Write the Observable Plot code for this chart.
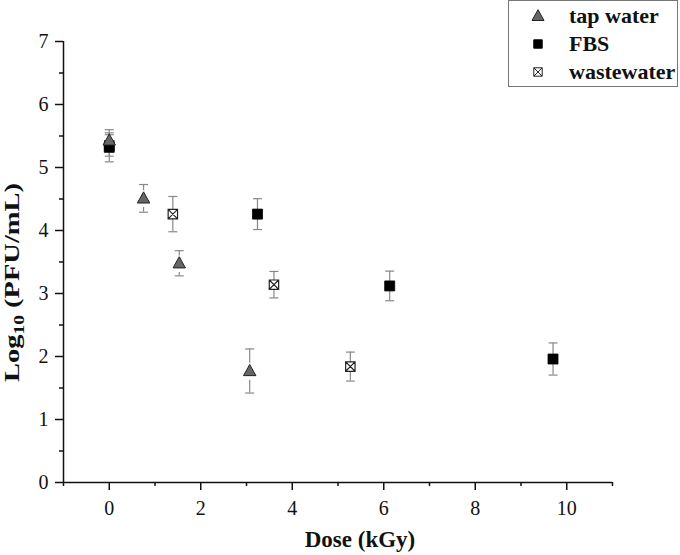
<!DOCTYPE html>
<html><head><meta charset="utf-8">
<script src="https://cdn.jsdelivr.net/npm/d3@7"></script>
<script src="https://cdn.jsdelivr.net/npm/@observablehq/plot@0.6"></script>
<style>
body{margin:0;background:#fff;font-family:"Liberation Serif","Times New Roman",Times,"DejaVu Serif",serif;}
#wrap{position:relative;width:680px;height:555px;overflow:hidden;}
#legend{position:absolute;left:508px;top:0;width:170px;height:87px;box-sizing:border-box;border:1.5px solid #777;background:#fff;}
.row{position:absolute;left:0;height:26px;display:flex;align-items:center;font-weight:bold;font-size:22px;color:#111;white-space:nowrap;}
.row svg{margin-left:21px;margin-right:23px;}
</style></head><body><div id="wrap"></div>
<script>
// ---- data ----
const seriesNames = ["tap water", "FBS", "wastewater"];
const tapDose = [0, 0.75, 1.53, 3.07];
const tapLog  = [5.43, 4.51, 3.48, 1.77];
const tapErr  = [0.17, 0.22, 0.20, 0.35];
const fbsDose = [0, 3.24, 6.13, 9.70];
const fbsLog  = [5.32, 4.26, 3.12, 1.96];
const fbsErr  = [0.23, 0.245, 0.235, 0.255];
const wwDose  = [0, 1.39, 3.60, 5.27];
const wwLog   = [5.35, 4.26, 3.14, 1.84];
const wwErr   = [0.17, 0.28, 0.21, 0.23];
const xMajor = [0, 2, 4, 6, 8, 10];
const xMinor = [-1, 1, 3, 5, 7, 9, 11];
const yMajor = [0, 1, 2, 3, 4, 5, 6, 7];
const yMinor = [0.5, 1.5, 2.5, 3.5, 4.5, 5.5, 6.5];

const FONT = '"Liberation Serif", "Times New Roman", Times, "DejaVu Serif", serif';

const mk = (name, xs, ys, es) => xs.map((x, i) => ({series: name, dose: x, log: ys[i], err: es[i]}));
const tap = mk(seriesNames[0], tapDose, tapLog, tapErr);
const fbs = mk(seriesNames[1], fbsDose, fbsLog, fbsErr);
const ww  = mk(seriesNames[2], wwDose, wwLog, wwErr);
const all = [...ww, ...fbs, ...tap];

// ---- custom symbols ----
const R = s => Math.sqrt(s / Math.PI);
const capSym = {draw(c, s){ const r = R(s); c.moveTo(-r, 0); c.lineTo(r, 0); }};
const triSym = {draw(c, s){ const r = R(s); c.moveTo(0, -r*1.05); c.lineTo(r, r*0.75); c.lineTo(-r, r*0.75); c.closePath(); }};
const sqSym  = {draw(c, s){ const r = R(s); c.moveTo(-r, -r); c.lineTo(r, -r); c.lineTo(r, r); c.lineTo(-r, r); c.closePath(); }};
const xSqSym = {draw(c, s){ const r = R(s); c.moveTo(-r, -r); c.lineTo(r, -r); c.lineTo(r, r); c.lineTo(-r, r); c.closePath();
  c.moveTo(-r, -r); c.lineTo(r, r); c.moveTo(r, -r); c.lineTo(-r, r); }};

const errColor = "#888";
const chart = Plot.plot({
  width: 680, height: 555,
  marginLeft: 63, marginRight: 68, marginTop: 41, marginBottom: 73,
  style: {fontFamily: FONT, color: "#111", background: "white"},
  x: {domain: [-1, 11]},
  y: {domain: [0, 7]},
  marks: [
    Plot.axisX({ticks: xMajor, tickFormat: "d", tickSize: 8, tickPadding: 10, fontSize: 20, strokeWidth: 1.5, label: null}),
    Plot.axisX({ticks: xMinor, tickSize: 4, text: null, strokeWidth: 1.5, label: null}),
    Plot.axisY({ticks: yMajor, tickFormat: "d", tickSize: 8, tickPadding: 7, fontSize: 20, strokeWidth: 1.5, label: null}),
    Plot.axisY({ticks: yMinor, tickSize: 4, text: null, strokeWidth: 1.5, label: null}),
    Plot.ruleY([0], {stroke: "#111", strokeWidth: 1.5}),
    Plot.ruleX([-1], {stroke: "#111", strokeWidth: 1.5}),
    Plot.ruleX(all, {x: "dose", y1: d => d.log - d.err, y2: d => d.log + d.err, stroke: errColor, strokeWidth: 1.2}),
    Plot.dot(all, {x: "dose", y: d => d.log + d.err, symbol: capSym, r: 4.5, stroke: errColor, strokeWidth: 1.2, fill: "none"}),
    Plot.dot(all, {x: "dose", y: d => d.log - d.err, symbol: capSym, r: 4.5, stroke: errColor, strokeWidth: 1.2, fill: "none"}),
    Plot.dot(ww,  {x: "dose", y: "log", symbol: xSqSym, r: 4.7, fill: "white", stroke: "#222", strokeWidth: 1.2}),
    Plot.dot(fbs, {x: "dose", y: "log", symbol: sqSym, r: 5, fill: "#000", stroke: "#000", strokeWidth: 0.8}),
    // small white gap below triangles (error bar does not touch the base)
    Plot.dot(tap.slice(1), {x: "dose", y: "log", symbol: triSym, r: 6.2, dy: 2, fill: "white", stroke: "white", strokeWidth: 4}),
    Plot.dot(tap, {x: "dose", y: "log", symbol: triSym, r: 6.2, fill: "#666", stroke: "#222", strokeWidth: 1}),
    Plot.text(["Dose (kGy)"], {text: d => d, frameAnchor: "bottom", dx: 22, dy: 57, fontSize: 23, fontWeight: "bold", lineAnchor: "middle"})
  ]
});

// y-axis title with subscript
const svg = d3.select(chart);
const yt = svg.append("text")
  .attr("transform", "translate(19,282.5) rotate(-90)")
  .attr("text-anchor", "middle")
  .attr("fill", "#111")
  .attr("textLength", 199)
  .attr("lengthAdjust", "spacingAndGlyphs")
  .style("font-family", FONT)
  .style("font-weight", "bold")
  .style("font-size", "22px");
yt.append("tspan").text("Log");
yt.append("tspan").attr("font-size", "15px").attr("dy", 5).text("10");
yt.append("tspan").attr("dy", -5).text(" (PFU/mL)");

const wrap = document.getElementById("wrap");
wrap.appendChild(chart);

// legend
const legend = document.createElement("div");
legend.id = "legend";
wrap.appendChild(legend);
const legSyms = [
  {sym: triSym, r: 6, fill: "#666", stroke: "#222"},
  {sym: sqSym, r: 4.2, fill: "#000", stroke: "#000"},
  {sym: xSqSym, r: 4.2, fill: "white", stroke: "#222"}
];
const rowCenters = [15, 43, 71];
seriesNames.forEach((name, i) => {
  const row = document.createElement("div");
  row.className = "row";
  row.style.top = (rowCenters[i] - 13) + "px";
  const s = legSyms[i];
  const p = d3.symbol().type(s.sym).size(Math.PI * s.r * s.r)();
  row.innerHTML = `<svg width="16" height="16" viewBox="-8 -8 16 16"><path d="${p}" fill="${s.fill}" stroke="${s.stroke}" stroke-width="1"/></svg>`;
  const sp = document.createElement("span");
  sp.textContent = name;
  row.appendChild(sp);
  legend.appendChild(row);
});
</script>
</body></html>
